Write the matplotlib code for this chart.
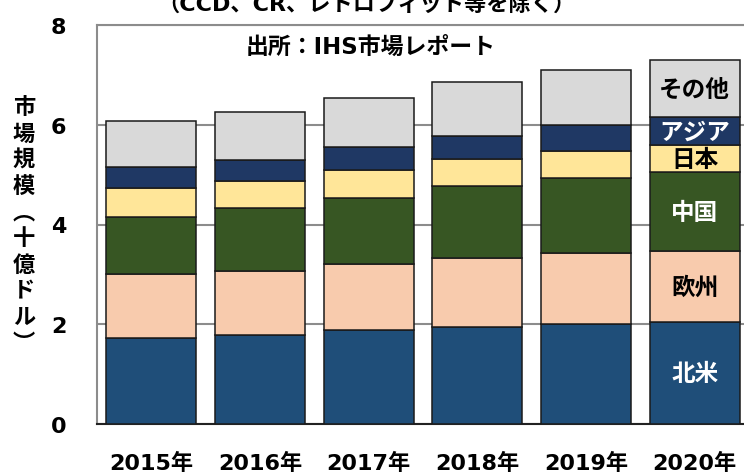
# Market size chart (stacked bars by region)

import matplotlib
matplotlib.use("Agg")
import matplotlib.pyplot as plt
import numpy as np

# Data (billion USD)
years = ["2015年", "2016年", "2017年", "2018年", "2019年", "2020年"]
regions = ["北米", "欧州", "中国", "日本", "アジア", "その他"]
north_america = [1.73, 1.79, 1.88, 1.95, 2.01, 2.05]
europe = [1.28, 1.28, 1.33, 1.37, 1.42, 1.42]
china = [1.14, 1.26, 1.33, 1.45, 1.51, 1.58]
japan = [0.58, 0.54, 0.55, 0.54, 0.54, 0.54]
asia = [0.42, 0.43, 0.46, 0.47, 0.52, 0.56]
other = [0.93, 0.95, 0.98, 1.07, 1.09, 1.15]
y_ticks = [0, 2, 4, 6, 8]

colors = ["#1F4E79", "#F8CBAD", "#375623", "#FFE699", "#1F3864", "#D9D9D9"]
label_colors = ["white", "black", "white", "black", "white", "black"]

plt.rcParams["font.family"] = ["DejaVu Sans", "Noto Sans CJK JP"]
plt.rcParams["font.weight"] = "bold"

fig = plt.figure(figsize=(7.44, 4.77), dpi=100)
ax = fig.add_axes([97 / 744, 52 / 477, 652 / 744, 399 / 477])

# Stacked bars
series = [north_america, europe, china, japan, asia, other]
x = np.arange(len(years))
bottom = np.zeros(len(years))
for vals, col in zip(series, colors):
    ax.bar(x, vals, width=0.83, bottom=bottom, color=col,
           edgecolor="#1a1a1a", linewidth=1.1, zorder=3)
    bottom += np.array(vals)

# Region names on the last bar
bottom = 0
for vals, name, tc in zip(series, regions, label_colors):
    ax.text(x[-1], bottom + vals[-1] / 2, name, color=tc, fontsize=17,
            fontweight="bold", ha="center", va="center",
            family=["Noto Sans CJK JP"], zorder=4)
    bottom += vals[-1]

# Axes styling
ax.set_xlim(-0.5, len(years) - 0.5)
ax.set_ylim(0, 8)
ax.set_yticks(y_ticks)
ax.set_xticks(x)
ax.set_xticklabels(years)
ax.tick_params(axis="y", length=0, pad=22, labelsize=16)
ax.tick_params(axis="x", length=0, pad=20, labelsize=16)
ax.yaxis.grid(True, color="#8c8c8c", linewidth=1.5)
ax.set_axisbelow(True)
for side in ["left", "top"]:
    ax.spines[side].set_color("#8c8c8c")
    ax.spines[side].set_linewidth(1.5)
ax.spines["bottom"].set_color("#222222")
ax.spines["bottom"].set_linewidth(1.5)
ax.spines["right"].set_visible(False)

# Vertical y-axis label, one character per line
ylabel = "市場規模︵十億ドル︶"
for i, ch in enumerate(ylabel):
    fig.text(24 / 744, 1 - (108 + i * 26.2) / 477, ch, fontsize=16,
             fontweight="bold", ha="center", va="center",
             family=["Noto Sans CJK JP"])

# Titles
fig.text(366 / 744, 1 - 11 / 477, "（CCD、CR、レトロフィット等を除く）",
         fontsize=16, fontweight="bold", ha="center", va="baseline")
fig.text(371 / 744, 1 - 47 / 477, "出所：IHS市場レポート",
         fontsize=16.5, fontweight="bold", ha="center", va="center")

fig.savefig("out.png", dpi=100)
